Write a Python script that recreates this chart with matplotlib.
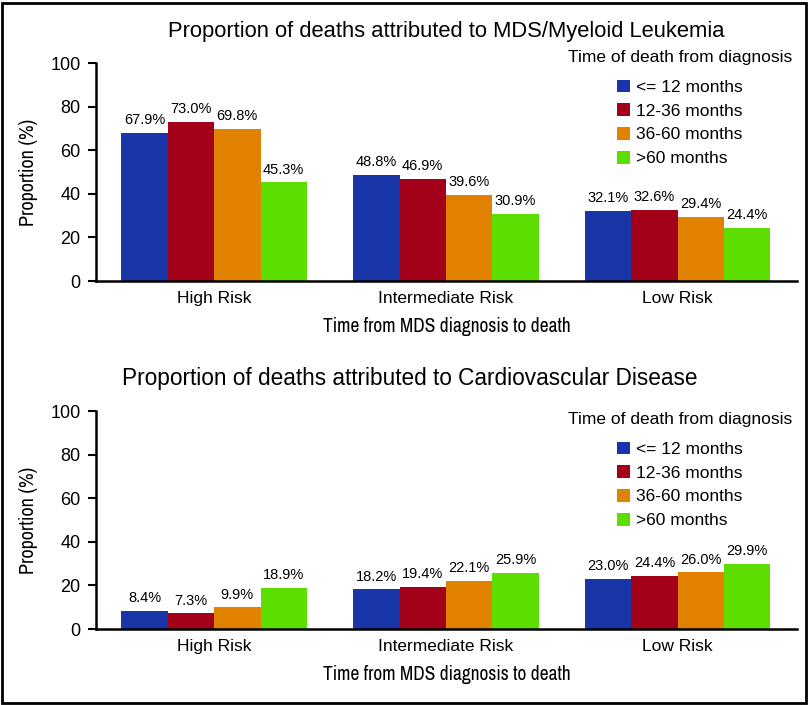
import matplotlib.pyplot as plt
import numpy as np
from matplotlib.patches import Rectangle

plt.rcParams['font.family'] = ['Liberation Sans', 'DejaVu Sans']

groups = ['High Risk', 'Intermediate Risk', 'Low Risk']
periods = ['<= 12 months', '12-36 months', '36-60 months', '>60 months']
colors = ['#1936A9', '#A3001A', '#E08200', '#5CDF00']

# rows = time of death, columns = risk group
mds_values = [[67.9, 48.8, 32.1],
              [73.0, 46.9, 32.6],
              [69.8, 39.6, 29.4],
              [45.3, 30.9, 24.4]]
cvd_values = [[8.4, 18.2, 23.0],
              [7.3, 19.4, 24.4],
              [9.9, 22.1, 26.0],
              [18.9, 25.9, 29.9]]

narrow = ['Archivo Narrow', 'Liberation Sans', 'DejaVu Sans']


def draw_panel(ax, values, title, title_x, title_size, legend_top):
    x = np.arange(len(groups))
    width = 0.2
    for i, period in enumerate(periods):
        bars = ax.bar(x + (i - 1.5) * width, values[i], width,
                      color=colors[i], label=period)
        for b, v in zip(bars, values[i]):
            ax.annotate(f"{v:.1f}%", (b.get_x() + b.get_width() / 2, b.get_height()),
                        xytext=(0, 4), textcoords='offset points',
                        ha='center', va='bottom', fontsize=10.5)

    ax.set_xlim(-0.51, 2.515)
    ax.set_ylim(0, 100)
    ax.set_yticks(np.arange(0, 101, 20))
    ax.set_xticks(x)
    ax.set_xticklabels(groups)
    ax.tick_params(axis='x', length=0, pad=7, labelsize=12.5)
    ax.tick_params(axis='y', length=6, width=1.5, pad=5, labelsize=13)
    for side in ['top', 'right']:
        ax.spines[side].set_visible(False)
    for side in ['left', 'bottom']:
        ax.spines[side].set_linewidth(1.8)

    ax.set_xlabel('Time from MDS diagnosis to death', family=narrow,
                  fontsize=14, labelpad=8)
    ax.set_ylabel('Proportion (%)', family=narrow, fontsize=14.5)
    ax.yaxis.set_label_coords(-0.083, 0.5)
    ax.set_title(title, fontsize=title_size, x=title_x, pad=19)

    leg = ax.legend(title='Time of death from diagnosis', loc='upper right',
                    bbox_to_anchor=(792 / 810, legend_top),
                    bbox_transform=ax.figure.transFigure,
                    frameon=False, fontsize=12.5, title_fontsize=12.5,
                    handlelength=0.75, handleheight=0.75, handletextpad=0.4,
                    labelspacing=0.48, borderpad=0, borderaxespad=0)
    # a bit more room between the legend title and the entries
    leg._legend_box.sep = 10.5


fig = plt.figure(figsize=(8.1, 7.05), dpi=100)
ax1 = fig.add_axes([96 / 810, 424 / 705, 701 / 810, 218 / 705])
ax2 = fig.add_axes([96 / 810, 76 / 705, 701 / 810, 218 / 705])

draw_panel(ax1, mds_values, 'Proportion of deaths attributed to MDS/Myeloid Leukemia',
           0.5, 15.8, 1 - 50 / 705)
draw_panel(ax2, cvd_values, 'Proportion of deaths attributed to Cardiovascular Disease',
           0.448, 16.3, 1 - 412 / 705)

fig.patches.append(Rectangle((2 / 810, 2 / 705), 804 / 810, 700 / 705,
                             transform=fig.transFigure, fill=False,
                             edgecolor='black', linewidth=2))

fig.savefig('out.png', dpi=100)
